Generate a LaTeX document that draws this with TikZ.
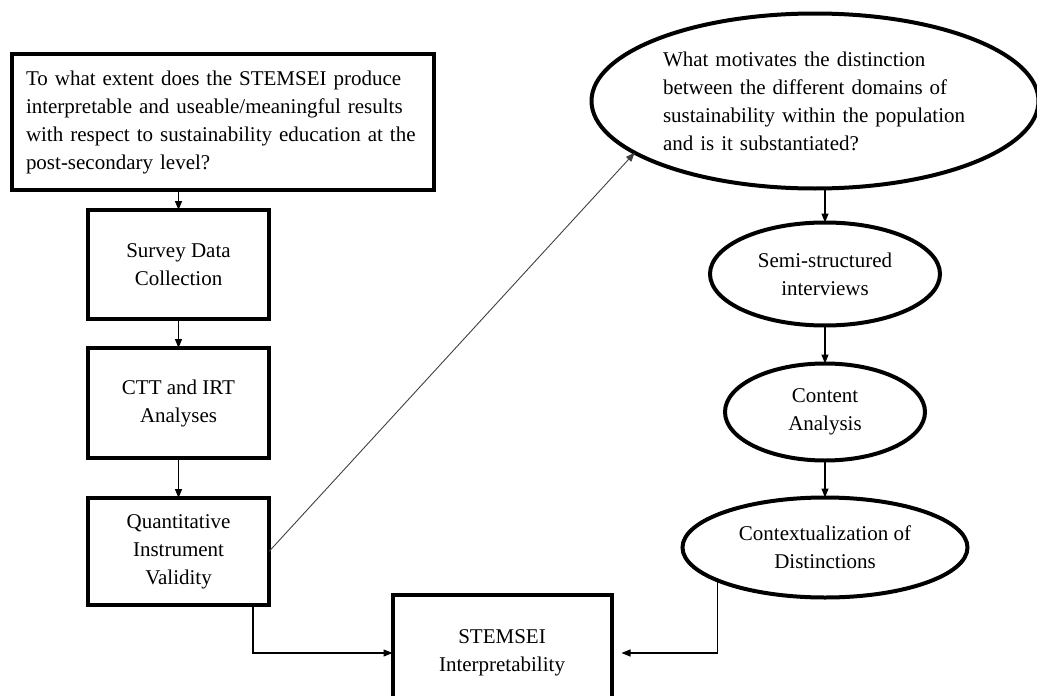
\documentclass[tikz,border=0pt]{standalone}
\usepackage{fontspec}
\setmainfont{Liberation Serif}
\usetikzlibrary{positioning}
\usetikzlibrary{arrows.meta}
\usetikzlibrary{shapes}
\tikzset{box node/.style={rectangle,draw,line width=4pt,outer sep=0pt,inner sep=0pt,align=center,minimum width=181pt},
	oval node/.style={ellipse,draw,line width=4pt,outer sep=0pt,inner sep=0pt,align=center},}

\begin{document}
\begin{tikzpicture}[x=1pt, y=-1pt, ->, >={Triangle[length=9pt,width=7pt]}, line width=1.2pt, font=\fontsize{21}{28}\selectfont]
	\useasboundingbox (0,0) rectangle (1037,696);
	% quantitative strand
	\node[box node, minimum width=422pt, minimum height=136pt, text width=394pt, align=left] (rq) at (223,122) {To what extent does the STEMSEI produce\\interpretable and useable/meaningful results\\with respect to sustainability education at the\\post-secondary level?};
	\node[box node, minimum height=109pt] (survey) [below = 20pt of rq, xshift=-44.5pt] {Survey Data\\Collection};
	\node[box node, minimum height=110pt] (ctt) [below = 29pt of survey] {CTT and IRT\\Analyses};
	\node[box node, minimum height=107pt] (qiv) [below = 40pt of ctt] {Quantitative\\Instrument\\Validity};
	% qualitative strand
	\node[oval node, minimum width=447pt, minimum height=175pt, text width=304pt, align=left] (why) at (815,101) {What motivates the distinction\\between the different domains of\\sustainability within the population\\and is it substantiated?};
	\node[oval node, minimum width=230pt, minimum height=103pt] (semi) [below = 34pt of why, xshift=10pt] {Semi-structured\\interviews};
	\node[oval node, minimum width=200pt, minimum height=97pt] (content) [below = 38pt of semi] {Content\\Analysis};
	\node[oval node, minimum width=285pt, minimum height=100pt] (context) [below = 37pt of content] {Contextualization of\\Distinctions};
	% result
	\node[box node, minimum width=219pt, minimum height=116pt] (si) at (502,653) {STEMSEI\\Interpretability};

	\path
	(rq.south -| survey) edge (survey)
	(survey) edge (ctt)
	(ctt) edge (qiv)
	(qiv.east) edge [line width=0.9pt, black!75] (why.196)
	(why.south -| semi) edge (semi)
	(semi) edge (content)
	(content) edge (context);
	\draw ([xshift=-16pt]qiv.south east) |- (si);
	\draw[shorten >=10pt] (context.197) |- (si);
\end{tikzpicture}
\end{document}
